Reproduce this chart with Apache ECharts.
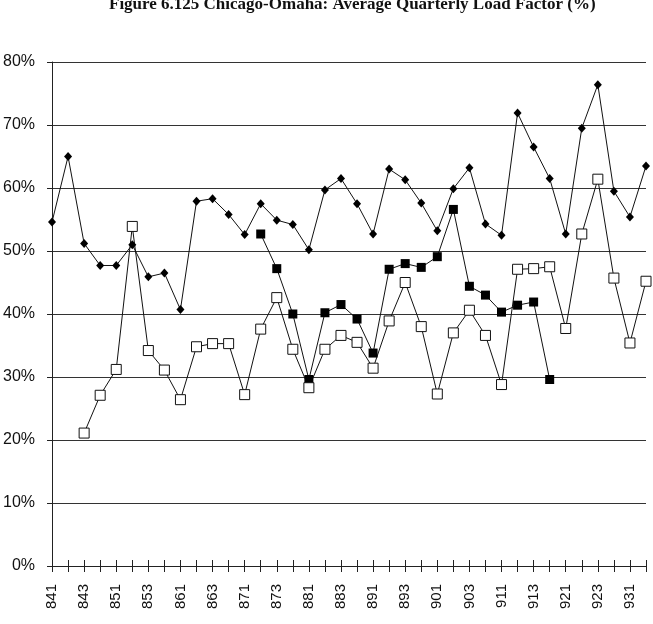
<!DOCTYPE html>
<html>
<head>
<meta charset="utf-8">
<script src="https://cdn.jsdelivr.net/npm/echarts@6/dist/echarts.min.js"></script>
<style>
  html, body { margin: 0; padding: 0; background: #fff; }
  #chart { width: 653px; height: 624px; }
</style>
</head>
<body>
<div id="chart"></div>
<script>
// 季度 (年份后两位 + 季度)
var quarters = ['841','842','843','844','851','852','853','854','861','862','863','864',
  '871','872','873','874','881','882','883','884','891','892','893','894',
  '901','902','903','904','911','912','913','914','921','922','923','924','931','932'];

// 菱形系列
var loadDiamond = [54.6, 65.0, 51.2, 47.7, 47.7, 51.0, 45.9, 46.5, 40.7, 57.9, 58.3, 55.8,
  52.6, 57.5, 54.9, 54.2, 50.2, 59.7, 61.5, 57.5, 52.7, 63.0, 61.3, 57.6,
  53.2, 59.9, 63.2, 54.3, 52.5, 71.9, 66.5, 61.5, 52.7, 69.5, 76.4, 59.5, 55.4, 63.5];

// 空心方块系列
var loadOpen = [null, null, 21.1, 27.1, 31.2, 53.9, 34.2, 31.1, 26.4, 34.8, 35.3, 35.3,
  27.2, 37.6, 42.6, 34.4, 28.3, 34.4, 36.6, 35.5, 31.4, 38.9, 45.0, 38.0,
  27.3, 37.0, 40.6, 36.6, 28.8, 47.1, 47.2, 47.5, 37.7, 52.7, 61.4, 45.7, 35.4, 45.2];

// 实心方块系列
var loadFilled = [null, null, null, null, null, null, null, null, null, null, null, null,
  null, 52.7, 47.2, 40.0, 29.6, 40.2, 41.5, 39.2, 33.8, 47.1, 48.0, 47.4,
  49.1, 56.6, 44.4, 43.0, 40.3, 41.4, 41.9, 29.6, null, null, null, null, null, null];

var yTicks = [0, 10, 20, 30, 40, 50, 60, 70, 80];

var chart = echarts.init(document.getElementById('chart'));

var option = {
  backgroundColor: '#fff',
  animation: false,
  title: {
    text: 'Figure 6.125 Chicago-Omaha: Average Quarterly Load Factor (%)',
    left: 104,
    top: -9,
    textStyle: { fontFamily: 'Liberation Serif', fontWeight: 'bold', fontSize: 17, color: '#111' }
  },
  grid: { left: 46, right: 7, top: 62, bottom: 58 },
  xAxis: [{
    type: 'category',
    data: quarters,
    boundaryGap: false,
    axisLine: { lineStyle: { color: '#222', width: 1 } },
    axisTick: { show: true, interval: 0, length: 6, lineStyle: { color: '#222' } },
    axisLabel: {
      interval: 1, rotate: 90, margin: 18,
      fontFamily: 'Liberation Sans', fontSize: 15, color: '#111'
    },
    splitLine: { show: false }
  }, {
    type: 'category',
    data: quarters,
    boundaryGap: false,
    position: 'bottom',
    axisLine: { show: false },
    axisTick: { show: true, inside: true, interval: 0, length: 6, lineStyle: { color: '#222' } },
    axisLabel: { show: false },
    splitLine: { show: false }
  }],
  yAxis: {
    type: 'value',
    min: yTicks[0],
    max: yTicks[yTicks.length - 1],
    interval: 10,
    axisLine: { show: true, lineStyle: { color: '#222', width: 1 } },
    axisTick: { show: true, length: 5, lineStyle: { color: '#222' } },
    axisLabel: {
      formatter: '{value}%', margin: 17,
      fontFamily: 'Liberation Sans', fontSize: 16, color: '#111'
    },
    splitLine: { show: true, lineStyle: { color: '#333', width: 1 } }
  },
  series: [{
    name: 'diamond',
    type: 'line',
    data: loadDiamond,
    symbol: 'diamond',
    symbolSize: [8, 9],
    lineStyle: { color: '#111', width: 1 },
    itemStyle: { color: '#000' }
  }, {
    name: 'filled',
    type: 'line',
    data: loadFilled,
    symbol: 'rect',
    symbolSize: 9,
    lineStyle: { color: '#111', width: 1 },
    itemStyle: { color: '#000' }
  }, {
    name: 'open',
    type: 'line',
    data: loadOpen,
    symbol: 'rect',
    symbolSize: 10,
    showAllSymbol: true,
    lineStyle: { color: '#111', width: 1 },
    itemStyle: { color: '#fff', borderColor: '#111', borderWidth: 1 }
  }]
};
chart.setOption(option);
</script>
</body>
</html>
